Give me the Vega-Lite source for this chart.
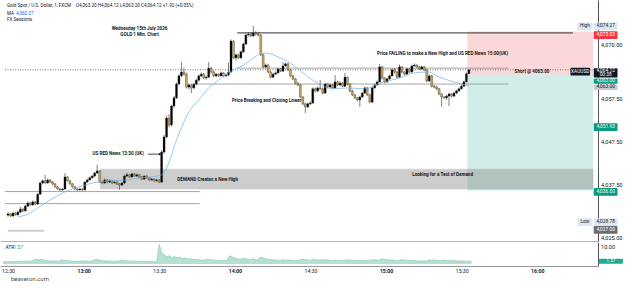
{
"$schema": "https://vega.github.io/schema/vega-lite/v6.json",
"padding": 0,
"spacing": 0,
"background": "#ffffff",
"config": {"view": {"stroke": null}, "font": "Roboto", "concat": {"spacing": 0}, "axis": {"labelOverlap": false, "labelBound": false, "labelFlush": false}},
"title": {"text": "beaveron.com", "orient": "bottom", "anchor": "start", "fontSize": 6, "fontWeight": "normal", "color": "#4a4a4a", "offset": 3, "dx": 11, "font": "Roboto"},
"datasets": {
"cd": [
{"m":28,"o":4030.3,"h":4031.0,"l":4030.0,"c":4030.6,"a":1.4},
{"m":29,"o":4030.6,"h":4030.8,"l":4029.9,"c":4030.1,"a":1.3},
{"m":30,"o":4030.1,"h":4031.0,"l":4030.0,"c":4030.8,"a":1.4},
{"m":31,"o":4030.8,"h":4031.1,"l":4030.2,"c":4030.4,"a":1.3},
{"m":32,"o":4030.4,"h":4031.3,"l":4030.2,"c":4031.0,"a":1.4},
{"m":33,"o":4031.0,"h":4032.2,"l":4030.8,"c":4031.7,"a":1.6},
{"m":34,"o":4031.7,"h":4031.9,"l":4031.0,"c":4031.3,"a":1.5},
{"m":35,"o":4031.3,"h":4032.7,"l":4031.1,"c":4032.4,"a":1.6},
{"m":36,"o":4032.4,"h":4033.5,"l":4032.2,"c":4033.1,"a":1.7},
{"m":37,"o":4033.1,"h":4033.4,"l":4032.4,"c":4032.7,"a":1.6},
{"m":38,"o":4032.7,"h":4033.7,"l":4032.5,"c":4033.4,"a":1.6},
{"m":39,"o":4033.4,"h":4033.6,"l":4032.6,"c":4032.9,"a":1.5},
{"m":40,"o":4032.9,"h":4035.4,"l":4032.7,"c":4035.2,"a":2.2},
{"m":41,"o":4035.2,"h":4038.1,"l":4035.0,"c":4037.8,"a":2.8},
{"m":42,"o":4037.8,"h":4038.6,"l":4037.5,"c":4038.3,"a":2.5},
{"m":43,"o":4038.3,"h":4039.7,"l":4037.6,"c":4037.8,"a":2.6},
{"m":44,"o":4037.8,"h":4038.8,"l":4037.6,"c":4038.5,"a":2.3},
{"m":45,"o":4038.5,"h":4038.7,"l":4037.8,"c":4038.0,"a":2.1},
{"m":46,"o":4038.0,"h":4038.3,"l":4037.3,"c":4037.6,"a":1.9},
{"m":47,"o":4037.6,"h":4037.8,"l":4036.7,"c":4036.9,"a":1.8},
{"m":48,"o":4036.9,"h":4037.1,"l":4036.2,"c":4036.4,"a":1.7},
{"m":49,"o":4036.4,"h":4036.6,"l":4035.9,"c":4036.2,"a":1.6},
{"m":50,"o":4036.2,"h":4036.6,"l":4036.0,"c":4036.4,"a":1.5},
{"m":51,"o":4036.4,"h":4040.1,"l":4036.2,"c":4039.2,"a":2.4},
{"m":52,"o":4039.2,"h":4039.4,"l":4038.1,"c":4038.3,"a":2.2},
{"m":53,"o":4038.3,"h":4038.5,"l":4037.4,"c":4037.6,"a":2.0},
{"m":54,"o":4037.6,"h":4037.8,"l":4036.7,"c":4036.9,"a":1.9},
{"m":55,"o":4036.9,"h":4037.1,"l":4036.2,"c":4036.4,"a":1.7},
{"m":56,"o":4036.4,"h":4036.6,"l":4035.9,"c":4036.2,"a":1.6},
{"m":57,"o":4036.2,"h":4036.7,"l":4036.0,"c":4036.4,"a":1.5},
{"m":58,"o":4036.4,"h":4036.6,"l":4035.9,"c":4036.2,"a":1.4},
{"m":59,"o":4036.2,"h":4038.2,"l":4036.0,"c":4038.0,"a":1.8},
{"m":60,"o":4038.0,"h":4038.8,"l":4037.8,"c":4038.5,"a":1.7},
{"m":61,"o":4038.5,"h":4039.3,"l":4038.3,"c":4039.0,"a":1.7},
{"m":62,"o":4039.0,"h":4039.7,"l":4038.8,"c":4039.4,"a":1.6},
{"m":63,"o":4039.4,"h":4040.4,"l":4039.2,"c":4040.1,"a":1.7},
{"m":64,"o":4040.1,"h":4042.0,"l":4039.9,"c":4040.6,"a":2.4},
{"m":65,"o":4040.6,"h":4040.8,"l":4037.8,"c":4038.0,"a":2.8},
{"m":66,"o":4038.0,"h":4038.3,"l":4037.5,"c":4037.8,"a":2.4},
{"m":67,"o":4037.8,"h":4038.8,"l":4037.6,"c":4038.5,"a":2.1},
{"m":68,"o":4038.5,"h":4038.7,"l":4037.8,"c":4038.0,"a":1.9},
{"m":69,"o":4038.0,"h":4038.6,"l":4037.8,"c":4038.3,"a":1.8},
{"m":70,"o":4038.3,"h":4038.5,"l":4037.6,"c":4037.8,"a":1.7},
{"m":71,"o":4037.8,"h":4038.3,"l":4037.6,"c":4038.0,"a":1.6},
{"m":72,"o":4038.0,"h":4038.2,"l":4037.3,"c":4037.6,"a":1.6},
{"m":73,"o":4037.6,"h":4037.8,"l":4036.2,"c":4037.3,"a":1.8},
{"m":74,"o":4037.3,"h":4038.0,"l":4037.1,"c":4037.8,"a":1.7},
{"m":75,"o":4037.8,"h":4039.7,"l":4037.6,"c":4039.4,"a":2.2},
{"m":76,"o":4039.4,"h":4040.1,"l":4039.2,"c":4039.7,"a":2.0},
{"m":77,"o":4039.7,"h":4039.9,"l":4039.0,"c":4039.2,"a":1.8},
{"m":78,"o":4039.2,"h":4040.2,"l":4039.0,"c":4039.9,"a":1.8},
{"m":79,"o":4039.9,"h":4040.1,"l":4039.2,"c":4039.4,"a":1.7},
{"m":80,"o":4039.4,"h":4040.0,"l":4039.2,"c":4039.7,"a":1.6},
{"m":81,"o":4039.7,"h":4039.9,"l":4039.0,"c":4039.2,"a":1.6},
{"m":82,"o":4039.2,"h":4039.4,"l":4038.5,"c":4038.7,"a":1.5},
{"m":83,"o":4038.7,"h":4039.6,"l":4038.5,"c":4039.4,"a":1.6},
{"m":84,"o":4039.4,"h":4039.6,"l":4038.8,"c":4039.0,"a":1.5},
{"m":85,"o":4039.0,"h":4039.2,"l":4038.3,"c":4038.5,"a":1.5},
{"m":86,"o":4038.5,"h":4039.0,"l":4038.3,"c":4038.7,"a":1.4},
{"m":87,"o":4038.7,"h":4038.9,"l":4038.1,"c":4038.3,"a":1.4},
{"m":88,"o":4038.3,"h":4038.8,"l":4038.1,"c":4038.5,"a":1.4},
{"m":89,"o":4038.5,"h":4038.7,"l":4037.8,"c":4038.0,"a":1.3},
{"m":90,"o":4038.0,"h":4045.4,"l":4037.8,"c":4045.0,"a":11.5},
{"m":91,"o":4045.0,"h":4049.0,"l":4044.6,"c":4048.5,"a":6.5},
{"m":92,"o":4048.5,"h":4053.4,"l":4048.2,"c":4052.9,"a":5.2},
{"m":93,"o":4052.9,"h":4053.8,"l":4050.8,"c":4051.3,"a":4.3},
{"m":94,"o":4051.3,"h":4056.0,"l":4051.0,"c":4055.7,"a":4.9},
{"m":95,"o":4055.7,"h":4058.0,"l":4055.3,"c":4057.6,"a":3.8},
{"m":96,"o":4057.6,"h":4061.2,"l":4057.3,"c":4060.8,"a":4.6},
{"m":97,"o":4060.8,"h":4063.1,"l":4060.5,"c":4062.7,"a":3.6},
{"m":98,"o":4062.7,"h":4065.9,"l":4062.4,"c":4063.6,"a":4.1},
{"m":99,"o":4063.6,"h":4064.6,"l":4062.8,"c":4063.1,"a":3.2},
{"m":100,"o":4063.1,"h":4063.4,"l":4059.8,"c":4060.1,"a":3.6},
{"m":101,"o":4060.1,"h":4061.0,"l":4059.5,"c":4060.6,"a":3.0},
{"m":102,"o":4060.6,"h":4060.9,"l":4058.7,"c":4059.9,"a":3.1},
{"m":103,"o":4059.9,"h":4061.1,"l":4059.6,"c":4060.8,"a":2.7},
{"m":104,"o":4060.8,"h":4062.0,"l":4060.5,"c":4061.7,"a":2.6},
{"m":105,"o":4061.7,"h":4063.0,"l":4061.4,"c":4062.7,"a":2.5},
{"m":106,"o":4062.7,"h":4063.5,"l":4062.4,"c":4063.1,"a":2.4},
{"m":107,"o":4063.1,"h":4063.4,"l":4061.9,"c":4062.2,"a":2.3},
{"m":108,"o":4062.2,"h":4062.8,"l":4061.8,"c":4062.4,"a":2.2},
{"m":109,"o":4062.4,"h":4065.9,"l":4062.2,"c":4064.5,"a":2.9},
{"m":110,"o":4064.5,"h":4064.8,"l":4063.3,"c":4063.6,"a":2.5},
{"m":111,"o":4063.6,"h":4063.9,"l":4062.4,"c":4062.7,"a":2.4},
{"m":112,"o":4062.7,"h":4063.4,"l":4062.4,"c":4063.1,"a":2.2},
{"m":113,"o":4063.1,"h":4063.3,"l":4062.4,"c":4062.7,"a":2.1},
{"m":114,"o":4062.7,"h":4063.7,"l":4062.5,"c":4063.4,"a":2.0},
{"m":115,"o":4063.4,"h":4063.6,"l":4062.4,"c":4062.7,"a":2.0},
{"m":116,"o":4062.7,"h":4063.3,"l":4062.4,"c":4062.9,"a":1.9},
{"m":117,"o":4062.9,"h":4065.7,"l":4062.6,"c":4063.6,"a":2.4},
{"m":118,"o":4063.6,"h":4071.2,"l":4063.3,"c":4070.8,"a":4.8},
{"m":119,"o":4070.8,"h":4071.0,"l":4066.6,"c":4066.9,"a":4.2},
{"m":120,"o":4066.9,"h":4067.9,"l":4066.3,"c":4067.6,"a":3.5},
{"m":121,"o":4067.6,"h":4067.8,"l":4066.6,"c":4066.9,"a":3.0},
{"m":122,"o":4066.9,"h":4068.6,"l":4066.7,"c":4068.3,"a":2.8},
{"m":123,"o":4068.3,"h":4070.4,"l":4068.0,"c":4070.1,"a":3.1},
{"m":124,"o":4070.1,"h":4072.5,"l":4069.9,"c":4072.2,"a":3.3},
{"m":125,"o":4072.2,"h":4072.9,"l":4071.9,"c":4072.4,"a":2.8},
{"m":126,"o":4072.4,"h":4072.8,"l":4071.7,"c":4072.0,"a":2.5},
{"m":127,"o":4072.0,"h":4074.3,"l":4071.8,"c":4072.7,"a":3.0},
{"m":128,"o":4072.7,"h":4073.1,"l":4072.1,"c":4072.4,"a":2.6},
{"m":129,"o":4072.4,"h":4072.9,"l":4071.9,"c":4072.2,"a":2.4},
{"m":130,"o":4072.2,"h":4072.5,"l":4067.3,"c":4067.6,"a":3.9},
{"m":131,"o":4067.6,"h":4067.9,"l":4064.5,"c":4064.8,"a":3.6},
{"m":132,"o":4064.8,"h":4065.6,"l":4064.5,"c":4065.2,"a":3.0},
{"m":133,"o":4065.2,"h":4065.4,"l":4063.3,"c":4063.6,"a":2.8},
{"m":134,"o":4063.6,"h":4063.9,"l":4062.1,"c":4062.4,"a":2.7},
{"m":135,"o":4062.4,"h":4063.4,"l":4062.2,"c":4063.1,"a":2.5},
{"m":136,"o":4063.1,"h":4063.7,"l":4062.9,"c":4063.4,"a":2.3},
{"m":137,"o":4063.4,"h":4064.6,"l":4063.2,"c":4064.3,"a":2.2},
{"m":138,"o":4064.3,"h":4064.5,"l":4063.6,"c":4063.8,"a":2.1},
{"m":139,"o":4063.8,"h":4065.9,"l":4063.6,"c":4065.0,"a":2.4},
{"m":140,"o":4065.0,"h":4065.8,"l":4064.8,"c":4065.5,"a":2.2},
{"m":141,"o":4065.5,"h":4065.7,"l":4063.8,"c":4064.1,"a":2.3},
{"m":142,"o":4064.1,"h":4064.3,"l":4062.4,"c":4062.7,"a":2.3},
{"m":143,"o":4062.7,"h":4062.9,"l":4061.7,"c":4062.0,"a":2.1},
{"m":144,"o":4062.0,"h":4062.2,"l":4060.7,"c":4061.0,"a":2.0},
{"m":145,"o":4061.0,"h":4061.3,"l":4060.3,"c":4060.6,"a":1.9},
{"m":146,"o":4060.6,"h":4060.8,"l":4057.5,"c":4057.8,"a":2.8},
{"m":147,"o":4057.8,"h":4058.0,"l":4055.9,"c":4056.2,"a":2.7},
{"m":148,"o":4056.2,"h":4056.4,"l":4054.1,"c":4055.5,"a":2.7},
{"m":149,"o":4055.5,"h":4056.5,"l":4055.2,"c":4056.2,"a":2.3},
{"m":150,"o":4056.2,"h":4056.8,"l":4055.9,"c":4056.4,"a":2.1},
{"m":151,"o":4056.4,"h":4060.0,"l":4056.2,"c":4059.7,"a":2.8},
{"m":152,"o":4059.7,"h":4060.0,"l":4058.9,"c":4059.2,"a":2.5},
{"m":153,"o":4059.2,"h":4060.2,"l":4058.9,"c":4059.9,"a":2.3},
{"m":154,"o":4059.9,"h":4061.7,"l":4059.4,"c":4059.7,"a":2.5},
{"m":155,"o":4059.7,"h":4060.0,"l":4058.4,"c":4058.7,"a":2.3},
{"m":156,"o":4058.7,"h":4061.1,"l":4058.5,"c":4060.8,"a":2.5},
{"m":157,"o":4060.8,"h":4061.0,"l":4059.8,"c":4060.1,"a":2.3},
{"m":158,"o":4060.1,"h":4060.9,"l":4059.9,"c":4060.6,"a":2.1},
{"m":159,"o":4060.6,"h":4060.8,"l":4059.6,"c":4059.9,"a":2.0},
{"m":160,"o":4059.9,"h":4062.9,"l":4059.7,"c":4061.3,"a":2.3},
{"m":161,"o":4061.3,"h":4061.6,"l":4060.3,"c":4060.6,"a":2.1},
{"m":162,"o":4060.6,"h":4061.4,"l":4060.3,"c":4061.0,"a":2.0},
{"m":163,"o":4061.0,"h":4061.3,"l":4060.1,"c":4060.3,"a":1.9},
{"m":164,"o":4060.3,"h":4063.4,"l":4060.1,"c":4062.4,"a":2.4},
{"m":165,"o":4062.4,"h":4062.6,"l":4060.5,"c":4060.8,"a":2.3},
{"m":166,"o":4060.8,"h":4061.0,"l":4058.9,"c":4059.2,"a":2.3},
{"m":167,"o":4059.2,"h":4059.5,"l":4058.0,"c":4058.3,"a":2.1},
{"m":168,"o":4058.3,"h":4058.5,"l":4057.3,"c":4057.6,"a":2.0},
{"m":169,"o":4057.6,"h":4057.8,"l":4056.8,"c":4057.1,"a":1.9},
{"m":170,"o":4057.1,"h":4058.1,"l":4055.5,"c":4057.8,"a":2.1},
{"m":171,"o":4057.8,"h":4059.0,"l":4057.6,"c":4058.7,"a":2.0},
{"m":172,"o":4058.7,"h":4060.2,"l":4058.5,"c":4059.9,"a":2.0},
{"m":173,"o":4059.9,"h":4060.1,"l":4058.0,"c":4058.3,"a":2.1},
{"m":174,"o":4058.3,"h":4058.5,"l":4056.3,"c":4056.6,"a":2.2},
{"m":175,"o":4056.6,"h":4060.2,"l":4056.4,"c":4059.9,"a":2.6},
{"m":176,"o":4059.9,"h":4060.9,"l":4059.7,"c":4060.6,"a":2.4},
{"m":177,"o":4060.6,"h":4061.6,"l":4060.4,"c":4061.3,"a":2.2},
{"m":178,"o":4061.3,"h":4065.5,"l":4061.1,"c":4064.8,"a":2.9},
{"m":179,"o":4064.8,"h":4065.0,"l":4061.9,"c":4062.2,"a":3.0},
{"m":180,"o":4062.2,"h":4062.4,"l":4061.0,"c":4061.3,"a":2.7},
{"m":181,"o":4061.3,"h":4062.3,"l":4061.1,"c":4062.0,"a":2.4},
{"m":182,"o":4062.0,"h":4063.0,"l":4061.8,"c":4062.7,"a":2.2},
{"m":183,"o":4062.7,"h":4064.4,"l":4062.5,"c":4064.1,"a":2.3},
{"m":184,"o":4064.1,"h":4064.5,"l":4063.3,"c":4063.6,"a":2.1},
{"m":185,"o":4063.6,"h":4063.8,"l":4062.1,"c":4062.4,"a":2.1},
{"m":186,"o":4062.4,"h":4065.4,"l":4062.2,"c":4064.8,"a":2.6},
{"m":187,"o":4064.8,"h":4065.0,"l":4063.3,"c":4063.6,"a":2.4},
{"m":188,"o":4063.6,"h":4063.8,"l":4062.8,"c":4063.1,"a":2.2},
{"m":189,"o":4063.1,"h":4064.6,"l":4062.9,"c":4064.3,"a":2.1},
{"m":190,"o":4064.3,"h":4064.5,"l":4063.3,"c":4063.6,"a":2.0},
{"m":191,"o":4063.6,"h":4065.3,"l":4063.4,"c":4065.0,"a":2.0},
{"m":192,"o":4065.0,"h":4065.6,"l":4064.8,"c":4065.2,"a":1.9},
{"m":193,"o":4065.2,"h":4065.4,"l":4064.5,"c":4064.8,"a":1.8},
{"m":194,"o":4064.8,"h":4065.0,"l":4064.1,"c":4064.3,"a":1.7},
{"m":195,"o":4064.3,"h":4065.1,"l":4064.1,"c":4064.8,"a":1.7},
{"m":196,"o":4064.8,"h":4065.0,"l":4063.8,"c":4064.1,"a":1.7},
{"m":197,"o":4064.1,"h":4064.3,"l":4061.2,"c":4061.5,"a":2.4},
{"m":198,"o":4061.5,"h":4063.0,"l":4061.3,"c":4062.7,"a":2.2},
{"m":199,"o":4062.7,"h":4062.9,"l":4060.0,"c":4060.3,"a":2.4},
{"m":200,"o":4060.3,"h":4060.6,"l":4059.8,"c":4060.1,"a":2.2},
{"m":201,"o":4060.1,"h":4060.4,"l":4059.4,"c":4059.7,"a":2.0},
{"m":202,"o":4059.7,"h":4059.9,"l":4058.2,"c":4058.5,"a":2.0},
{"m":203,"o":4058.5,"h":4058.7,"l":4055.5,"c":4057.8,"a":2.3},
{"m":204,"o":4057.8,"h":4058.0,"l":4057.3,"c":4057.6,"a":2.0},
{"m":205,"o":4057.6,"h":4058.3,"l":4057.1,"c":4058.0,"a":1.9},
{"m":206,"o":4058.0,"h":4058.8,"l":4055.7,"c":4058.5,"a":2.1},
{"m":207,"o":4058.5,"h":4058.7,"l":4057.7,"c":4058.0,"a":1.9},
{"m":208,"o":4058.0,"h":4059.0,"l":4057.8,"c":4058.7,"a":1.8},
{"m":209,"o":4058.7,"h":4059.5,"l":4058.5,"c":4059.2,"a":1.7},
{"m":210,"o":4059.2,"h":4060.0,"l":4059.0,"c":4059.7,"a":1.7},
{"m":211,"o":4059.7,"h":4060.6,"l":4059.5,"c":4060.3,"a":1.6},
{"m":212,"o":4060.3,"h":4061.6,"l":4060.1,"c":4061.3,"a":1.6},
{"m":213,"o":4061.3,"h":4063.5,"l":4061.1,"c":4063.2,"a":1.7},
{"m":214,"o":4063.2,"h":4064.12,"l":4063.2,"c":4064.12,"a":1.57}
],
"ma": [
{"m":32,"v":4029.9},{"m":37,"v":4030.8},{"m":40,"v":4032.0},{"m":43,"v":4033.1},{"m":47,"v":4034.5},{"m":51,"v":4035.7},{"m":55,"v":4036.6},{"m":59,"v":4037.3},{"m":64,"v":4038.0},{"m":69,"v":4038.3},{"m":76,"v":4038.5},{"m":82,"v":4039.0},{"m":88,"v":4039.4},{"m":90,"v":4039.7},{"m":92,"v":4041.3},{"m":94,"v":4044.3},{"m":96,"v":4047.8},{"m":98,"v":4050.6},{"m":101,"v":4054.3},{"m":105,"v":4057.1},{"m":109,"v":4059.9},{"m":113,"v":4061.7},{"m":119,"v":4064.1},{"m":123,"v":4065.2},{"m":129,"v":4067.6},{"m":131,"v":4068.0},{"m":134,"v":4067.8},{"m":137,"v":4067.1},{"m":142,"v":4065.7},{"m":147,"v":4063.4},{"m":153,"v":4061.0},{"m":159,"v":4059.7},{"m":165,"v":4059.9},{"m":172,"v":4059.7},{"m":178,"v":4061.0},{"m":186,"v":4062.2},{"m":192,"v":4063.4},{"m":198,"v":4063.6},{"m":201,"v":4062.7},{"m":208,"v":4061.3},{"m":214,"v":4060.4}
],
"zn": [
{"x1":213.4,"x2":264.1,"p1":4063.0,"p2":4073.03,"k":"red"},
{"x1":213.4,"x2":264.1,"p1":4036.0,"p2":4063.0,"k":"grn"},
{"x1":65.3,"x2":264.1,"p1":4036.4,"p2":4041.0,"k":"dem"}
],
"ln": [
{"x1":26.8,"x2":105.4,"p":4035.8,"k":"g"},
{"x1":26.8,"x2":105.4,"p":4033.0,"k":"g"},
{"x1":28.0,"x2":42.7,"p":4026.7,"k":"s"},
{"x1":120.5,"x2":256.0,"p":4072.7,"k":"b"},
{"x1":120.5,"x2":230.0,"p":4064.5,"k":"g"},
{"x1":104.0,"x2":230.0,"p":4060.8,"k":"g"},
{"x1":26.8,"x2":264.1,"p":4064.12,"k":"d"}
],
"ar": [{"x1":84.4,"x2":89.4,"p":4044.5}],
"tx": [
{"m":27.6,"p":4078.95,"t":"Gold Spot / U.S. Dollar, 1, FXCM","k":"l"},
{"m":55.4,"p":4078.95,"t":"O4,063.20  H4,064.12  L4,063.20  C4,064.12  +1.92 (+0.05%)","k":"l"},
{"m":27.6,"p":4077.1,"t":"MA","k":"l"},
{"m":31.2,"p":4077.1,"t":"4,060.37","k":"b"},
{"m":27.6,"p":4075.7,"t":"FX Sessions","k":"l"},
{"m":81.1,"p":4073.5,"t":"Wednesday 15th July 2026","k":"c"},
{"m":81.1,"p":4072.2,"t":"GOLD 1 Min. Chart","k":"c"},
{"m":62.1,"p":4044.5,"t":"US RED News 13:30 (UK)","k":"n"},
{"m":108.6,"p":4038.4,"t":"DEMAND Creates a New High","k":"c"},
{"m":132.4,"p":4056.9,"t":"Price Breaking and Closing Lower","k":"c"},
{"m":203.4,"p":4067.7,"t":"Price FAILING to make a New High and US RED News 15:00(UK)","k":"c"},
{"m":239.5,"p":4063.7,"t":"Short @ 4063.00","k":"c"},
{"m":203.4,"p":4039.7,"t":"Looking for a Test of Demand","k":"c"}
],
"bd": [
{"x1":257.8,"x2":263.9,"p1":4075.1,"p2":4073.3,"xt":260.85,"pt":4074.2,"t":"High","k":"hi"},
{"x1":264.4,"x2":274.0,"p1":4075.1,"p2":4073.3,"xt":269.2,"pt":4074.2,"t":"4,074.27","k":"hi"},
{"x1":264.4,"x2":274.0,"p1":4073.1,"p2":4071.3,"xt":269.2,"pt":4072.2,"t":"4,073.03","k":"red"},
{"x1":255.0,"x2":262.9,"p1":4064.6,"p2":4062.8,"xt":258.95,"pt":4063.7,"t":"XAUUSD","k":"blk"},
{"x1":264.4,"x2":274.0,"p1":4064.5,"p2":4062.3,"xt":269.2,"pt":4063.95,"t":"4,064.12","k":"blk"},
{"xt":269.2,"pt":4062.8,"t":"00:38","k":"blk"},
{"x1":264.4,"x2":274.0,"p1":4062.1,"p2":4060.9,"xt":269.2,"pt":4061.5,"t":"4,063.00","k":"grn"},
{"x1":264.4,"x2":274.0,"p1":4060.6,"p2":4059.4,"xt":269.2,"pt":4060.0,"t":"4,063.00","k":"gry"},
{"x1":264.4,"x2":274.0,"p1":4051.7,"p2":4049.9,"xt":269.2,"pt":4050.8,"t":"4,051.93","k":"grn"},
{"x1":264.4,"x2":274.0,"p1":4036.6,"p2":4034.8,"xt":269.2,"pt":4035.7,"t":"4,036.00","k":"grn"},
{"x1":257.8,"x2":263.9,"p1":4029.6,"p2":4027.8,"xt":260.85,"pt":4028.7,"t":"Low","k":"hi"},
{"x1":264.4,"x2":274.0,"p1":4029.6,"p2":4027.8,"xt":269.2,"pt":4028.7,"t":"4,028.78","k":"hi"},
{"x1":264.4,"x2":274.0,"p1":4027.8,"p2":4026.0,"xt":269.2,"pt":4026.9,"t":"4,027.00","k":"dg"}
],
"at": [
{"m":29.0,"a":9.6,"t":"ATR","k":"l"},
{"m":32.2,"a":9.6,"t":"1.57","k":"v"}
],
"ab": [{"x1":264.4,"x2":274.0,"a1":0.1,"a2":3.0,"xt":269.2,"at":1.57,"t":"1.57"}]
},
"vconcat": [
{
"width": 598, "height": 241,
"layer": [
{"data": {"name": "zn"}, "transform": [{"filter": "datum.k==='red'"}],
 "mark": {"type": "rect", "color": "#f23645", "opacity": 0.2},
 "encoding": {
  "x": {"field": "x1", "type": "quantitative", "title": null, "scale": {"domain": [26.8, 264.1], "nice": false, "zero": false},
        "axis": {"labels": false, "ticks": false, "grid": false, "domain": true, "domainColor": "#b2b5be", "domainWidth": 1}},
  "x2": {"field": "x2"},
  "y": {"field": "p1", "type": "quantitative", "title": null, "scale": {"domain": [4024.3, 4080.35], "nice": false, "zero": false},
        "axis": {"orient": "right", "values": [4025,4030,4032.5,4035,4037.5,4040,4042.5,4045,4047.5,4050,4052.5,4055,4057.5,4060,4065,4067.5,4070,4075,4077.5],
                 "format": ",.2f", "labelFontSize": 5.6, "labelColor": "#131722", "labelOverlap": false, "ticks": false, "grid": false, "domain": true, "domainColor": "#50535e", "labelPadding": 2.5}},
  "y2": {"field": "p2"}
 }},
{"data": {"name": "zn"}, "transform": [{"filter": "datum.k==='grn'"}],
 "mark": {"type": "rect", "color": "#089981", "opacity": 0.18},
 "encoding": {"x": {"field": "x1", "type": "quantitative", "title": null}, "x2": {"field": "x2"}, "y": {"field": "p1", "type": "quantitative", "title": null}, "y2": {"field": "p2"}}},
{"data": {"name": "zn"}, "transform": [{"filter": "datum.k==='dem'"}],
 "mark": {"type": "rect", "color": "#787878", "opacity": 0.36, "stroke": "#6d6d6d", "strokeWidth": 0.6, "strokeOpacity": 1},
 "encoding": {"x": {"field": "x1", "type": "quantitative", "title": null}, "x2": {"field": "x2"}, "y": {"field": "p1", "type": "quantitative", "title": null}, "y2": {"field": "p2"}}},
{"data": {"name": "ln"}, "transform": [{"filter": "datum.k==='g'"}],
 "mark": {"type": "rule", "color": "#8f8f8f", "strokeWidth": 0.8},
 "encoding": {"x": {"field": "x1", "type": "quantitative", "title": null}, "x2": {"field": "x2"}, "y": {"field": "p", "type": "quantitative", "title": null}}},
{"data": {"name": "ln"}, "transform": [{"filter": "datum.k==='s'"}],
 "mark": {"type": "rule", "color": "#cfcfcf", "strokeWidth": 2},
 "encoding": {"x": {"field": "x1", "type": "quantitative", "title": null}, "x2": {"field": "x2"}, "y": {"field": "p", "type": "quantitative", "title": null}}},
{"data": {"name": "ln"}, "transform": [{"filter": "datum.k==='b'"}],
 "mark": {"type": "rule", "color": "#333333", "strokeWidth": 1},
 "encoding": {"x": {"field": "x1", "type": "quantitative", "title": null}, "x2": {"field": "x2"}, "y": {"field": "p", "type": "quantitative", "title": null}}},
{"data": {"name": "ln"}, "transform": [{"filter": "datum.k==='d'"}],
 "mark": {"type": "rule", "color": "#555555", "strokeWidth": 0.8, "strokeDash": [1, 1.5]},
 "encoding": {"x": {"field": "x1", "type": "quantitative", "title": null}, "x2": {"field": "x2"}, "y": {"field": "p", "type": "quantitative", "title": null}}},
{"data": {"name": "cd"},
 "mark": {"type": "rule", "color": "#2a2a2a", "strokeWidth": 0.6},
 "encoding": {"x": {"field": "m", "type": "quantitative", "title": null}, "y": {"field": "l", "type": "quantitative", "title": null}, "y2": {"field": "h"}}},
{"data": {"name": "cd"},
 "mark": {"type": "bar", "width": 2.0, "stroke": "#1a1a1a", "strokeWidth": 0.3},
 "encoding": {"x": {"field": "m", "type": "quantitative", "title": null}, "y": {"field": "o", "type": "quantitative", "title": null}, "y2": {"field": "c"},
  "color": {"condition": {"test": "datum.c >= datum.o", "value": "#000000"}, "value": "#c9a65e"}}},
{"data": {"name": "ma"},
 "mark": {"type": "line", "color": "#6fb2ea", "strokeWidth": 0.7, "interpolate": "monotone"},
 "encoding": {"x": {"field": "m", "type": "quantitative", "title": null}, "y": {"field": "v", "type": "quantitative", "title": null}}},
{"data": {"name": "ar"},
 "mark": {"type": "rule", "color": "#131722", "strokeWidth": 0.8},
 "encoding": {"x": {"field": "x1", "type": "quantitative", "title": null}, "x2": {"field": "x2"}, "y": {"field": "p", "type": "quantitative", "title": null}}},
{"data": {"name": "ar"},
 "mark": {"type": "point", "shape": "triangle-right", "filled": true, "color": "#131722", "size": 8, "opacity": 1},
 "encoding": {"x": {"field": "x2", "type": "quantitative", "title": null}, "y": {"field": "p", "type": "quantitative", "title": null}}},
{"data": {"name": "tx"}, "transform": [{"filter": "datum.k==='c'"}],
 "mark": {"type": "text", "align": "center", "baseline": "middle", "fontSize": 4.6, "fontWeight": "bold", "color": "#131722"},
 "encoding": {"x": {"field": "m", "type": "quantitative", "title": null}, "y": {"field": "p", "type": "quantitative", "title": null}, "text": {"field": "t"}}},
{"data": {"name": "tx"}, "transform": [{"filter": "datum.k==='n'"}],
 "mark": {"type": "text", "align": "left", "baseline": "middle", "fontSize": 4.6, "fontWeight": "bold", "color": "#131722"},
 "encoding": {"x": {"field": "m", "type": "quantitative", "title": null}, "y": {"field": "p", "type": "quantitative", "title": null}, "text": {"field": "t"}}},
{"data": {"name": "tx"}, "transform": [{"filter": "datum.k==='l'"}],
 "mark": {"type": "text", "align": "left", "baseline": "middle", "fontSize": 4.6, "color": "#131722"},
 "encoding": {"x": {"field": "m", "type": "quantitative", "title": null}, "y": {"field": "p", "type": "quantitative", "title": null}, "text": {"field": "t"}}},
{"data": {"name": "tx"}, "transform": [{"filter": "datum.k==='b'"}],
 "mark": {"type": "text", "align": "left", "baseline": "middle", "fontSize": 4.6, "color": "#2962ff"},
 "encoding": {"x": {"field": "m", "type": "quantitative", "title": null}, "y": {"field": "p", "type": "quantitative", "title": null}, "text": {"field": "t"}}},
{"data": {"name": "bd"},
 "mark": {"type": "rect", "clip": false, "cornerRadius": 1},
 "encoding": {"x": {"field": "x1", "type": "quantitative", "title": null}, "x2": {"field": "x2"}, "y": {"field": "p1", "type": "quantitative", "title": null}, "y2": {"field": "p2"},
  "fill": {"field": "k", "type": "nominal", "legend": null, "scale": {"domain": ["hi","red","blk","grn","gry","dg"], "range": ["#dde7f3","#f23645","#131722","#089981","#c5c8cf","#6a6d78"]}}}},
{"data": {"name": "bd"},
 "mark": {"type": "text", "clip": false, "align": "center", "baseline": "middle", "fontSize": 4.8},
 "encoding": {"x": {"field": "xt", "type": "quantitative", "title": null}, "y": {"field": "pt", "type": "quantitative", "title": null}, "text": {"field": "t"},
  "color": {"field": "k", "type": "nominal", "legend": null, "scale": {"domain": ["hi","red","blk","grn","gry","dg"], "range": ["#131722","#ffffff","#ffffff","#ffffff","#131722","#ffffff"]}}}}
]
},
{
"width": 598, "height": 24,
"layer": [
{"data": {"name": "cd"},
 "mark": {"type": "area", "color": "#a8dccb", "opacity": 0.85, "line": {"color": "#7dc9b1", "strokeWidth": 0.6}},
 "encoding": {
  "x": {"field": "m", "type": "quantitative", "title": null, "scale": {"domain": [26.8, 264.1], "nice": false, "zero": false},
        "axis": {"values": [30,45,60,75,90,105,120,135,150,165,180,195,210,225,240,255],
                 "labelExpr": "(12 + floor(datum.value / 60)) + ':' + (datum.value % 60 < 10 ? '0' : '') + (datum.value % 60)",
                 "labelFontSize": 5.2, "labelColor": "#131722", "labelOverlap": false, "ticks": false, "grid": false, "domain": true, "domainColor": "#9598a1", "labelPadding": 2,
                 "labelFontWeight": {"condition": {"test": "datum.value % 60 === 0", "value": "bold"}, "value": "normal"}}},
  "y": {"field": "a", "type": "quantitative", "title": null, "scale": {"domain": [-1.2, 12.9], "nice": false, "zero": false},
        "axis": {"orient": "right", "values": [10], "format": ".2f", "labelFontSize": 5.6, "labelColor": "#131722", "labelOverlap": false, "labelBound": false, "ticks": false, "grid": false, "domain": true, "domainColor": "#50535e", "labelPadding": 2.5}},
  "y2": {"datum": 0}
 }},
{"data": {"name": "at"}, "transform": [{"filter": "datum.k==='l'"}],
 "mark": {"type": "text", "align": "left", "baseline": "middle", "fontSize": 4.8, "color": "#131722"},
 "encoding": {"x": {"field": "m", "type": "quantitative", "title": null}, "y": {"field": "a", "type": "quantitative", "title": null}, "text": {"field": "t"}}},
{"data": {"name": "at"}, "transform": [{"filter": "datum.k==='v'"}],
 "mark": {"type": "text", "align": "left", "baseline": "middle", "fontSize": 4.8, "color": "#22ab94"},
 "encoding": {"x": {"field": "m", "type": "quantitative", "title": null}, "y": {"field": "a", "type": "quantitative", "title": null}, "text": {"field": "t"}}},
{"data": {"name": "ab"},
 "mark": {"type": "rect", "clip": false, "color": "#22ab94", "cornerRadius": 1},
 "encoding": {"x": {"field": "x1", "type": "quantitative", "title": null}, "x2": {"field": "x2"}, "y": {"field": "a1", "type": "quantitative", "title": null}, "y2": {"field": "a2"}}},
{"data": {"name": "ab"},
 "mark": {"type": "text", "clip": false, "align": "center", "baseline": "middle", "fontSize": 4.8, "color": "#ffffff"},
 "encoding": {"x": {"field": "xt", "type": "quantitative", "title": null}, "y": {"field": "at", "type": "quantitative", "title": null}, "text": {"field": "t"}}}
]
}
]
}
